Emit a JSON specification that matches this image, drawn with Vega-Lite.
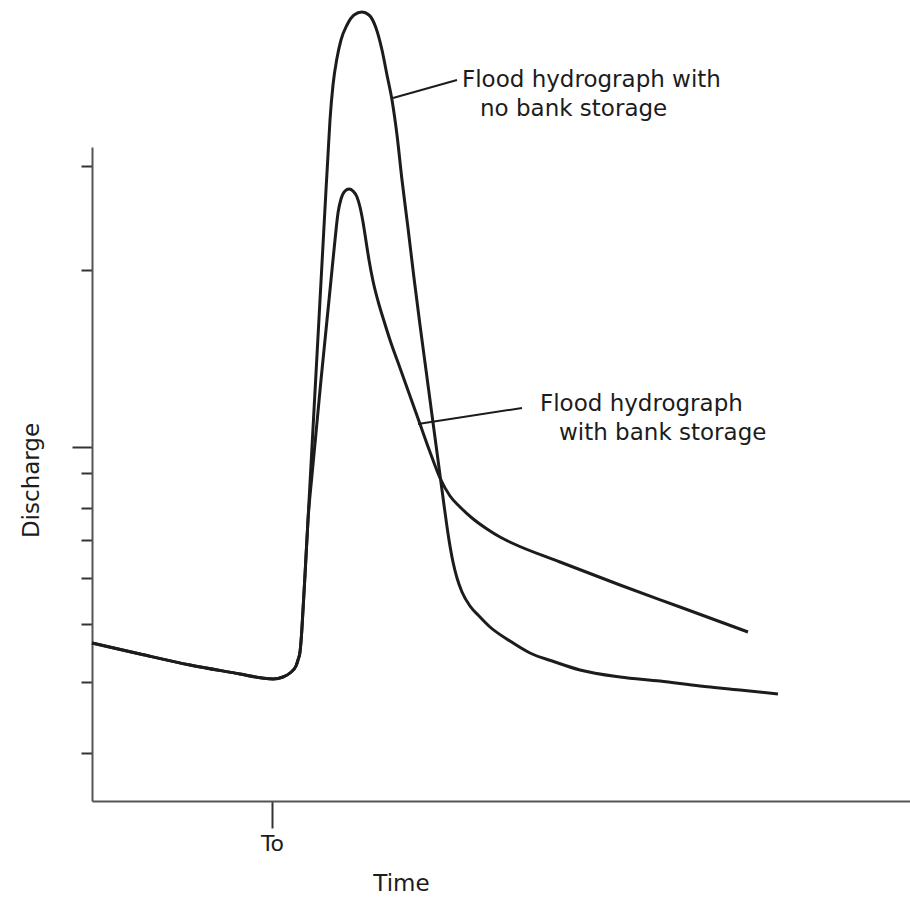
{
  "$schema": "https://vega.github.io/schema/vega-lite/v6.json",
  "width": 818,
  "height": 654,
  "autosize": {"type": "none"},
  "padding": {"left": 92, "top": 147, "right": 0, "bottom": 106},
  "background": "white",
  "config": {"view": {"stroke": null}, "font": "DejaVu Sans"},
  "datasets": {
    "curves": [
      {"series": "no bank storage", "t": 0, "q": 158},
      {"series": "no bank storage", "t": 48, "q": 147},
      {"series": "no bank storage", "t": 98, "q": 136},
      {"series": "no bank storage", "t": 148, "q": 127},
      {"series": "no bank storage", "t": 170, "q": 123},
      {"series": "no bank storage", "t": 181, "q": 122},
      {"series": "no bank storage", "t": 191, "q": 124},
      {"series": "no bank storage", "t": 198, "q": 128},
      {"series": "no bank storage", "t": 204, "q": 135},
      {"series": "no bank storage", "t": 206, "q": 141},
      {"series": "no bank storage", "t": 208, "q": 149},
      {"series": "no bank storage", "t": 209.5, "q": 166},
      {"series": "no bank storage", "t": 211, "q": 191},
      {"series": "no bank storage", "t": 213, "q": 226},
      {"series": "no bank storage", "t": 216, "q": 281},
      {"series": "no bank storage", "t": 219, "q": 336},
      {"series": "no bank storage", "t": 222, "q": 391},
      {"series": "no bank storage", "t": 225, "q": 446},
      {"series": "no bank storage", "t": 228, "q": 501},
      {"series": "no bank storage", "t": 231, "q": 556},
      {"series": "no bank storage", "t": 234, "q": 611},
      {"series": "no bank storage", "t": 236, "q": 646},
      {"series": "no bank storage", "t": 238, "q": 681},
      {"series": "no bank storage", "t": 241, "q": 716},
      {"series": "no bank storage", "t": 245, "q": 743},
      {"series": "no bank storage", "t": 249, "q": 761},
      {"series": "no bank storage", "t": 255, "q": 776},
      {"series": "no bank storage", "t": 262, "q": 786},
      {"series": "no bank storage", "t": 270, "q": 789},
      {"series": "no bank storage", "t": 277, "q": 786},
      {"series": "no bank storage", "t": 284, "q": 773},
      {"series": "no bank storage", "t": 290, "q": 751},
      {"series": "no bank storage", "t": 295, "q": 726},
      {"series": "no bank storage", "t": 300, "q": 701},
      {"series": "no bank storage", "t": 305, "q": 666},
      {"series": "no bank storage", "t": 310, "q": 621},
      {"series": "no bank storage", "t": 316, "q": 573},
      {"series": "no bank storage", "t": 322, "q": 523},
      {"series": "no bank storage", "t": 328, "q": 476},
      {"series": "no bank storage", "t": 334, "q": 431},
      {"series": "no bank storage", "t": 340, "q": 386},
      {"series": "no bank storage", "t": 346, "q": 341},
      {"series": "no bank storage", "t": 352, "q": 296},
      {"series": "no bank storage", "t": 357, "q": 261},
      {"series": "no bank storage", "t": 361, "q": 239},
      {"series": "no bank storage", "t": 365, "q": 223},
      {"series": "no bank storage", "t": 370, "q": 209},
      {"series": "no bank storage", "t": 378, "q": 195},
      {"series": "no bank storage", "t": 388, "q": 184},
      {"series": "no bank storage", "t": 398, "q": 174},
      {"series": "no bank storage", "t": 418, "q": 160},
      {"series": "no bank storage", "t": 438, "q": 148},
      {"series": "no bank storage", "t": 463, "q": 139},
      {"series": "no bank storage", "t": 488, "q": 131},
      {"series": "no bank storage", "t": 528, "q": 124},
      {"series": "no bank storage", "t": 568, "q": 120},
      {"series": "no bank storage", "t": 608, "q": 115},
      {"series": "no bank storage", "t": 648, "q": 111},
      {"series": "no bank storage", "t": 686, "q": 107},
      {"series": "bank storage", "t": 0, "q": 158},
      {"series": "bank storage", "t": 48, "q": 147},
      {"series": "bank storage", "t": 98, "q": 136},
      {"series": "bank storage", "t": 148, "q": 127},
      {"series": "bank storage", "t": 170, "q": 123},
      {"series": "bank storage", "t": 181, "q": 122},
      {"series": "bank storage", "t": 191, "q": 124},
      {"series": "bank storage", "t": 198, "q": 128},
      {"series": "bank storage", "t": 204, "q": 135},
      {"series": "bank storage", "t": 206, "q": 141},
      {"series": "bank storage", "t": 208, "q": 149},
      {"series": "bank storage", "t": 209.5, "q": 166},
      {"series": "bank storage", "t": 211, "q": 191},
      {"series": "bank storage", "t": 213, "q": 226},
      {"series": "bank storage", "t": 216, "q": 281},
      {"series": "bank storage", "t": 220, "q": 326},
      {"series": "bank storage", "t": 224, "q": 368},
      {"series": "bank storage", "t": 229, "q": 421},
      {"series": "bank storage", "t": 234, "q": 471},
      {"series": "bank storage", "t": 239, "q": 521},
      {"series": "bank storage", "t": 243, "q": 561},
      {"series": "bank storage", "t": 246, "q": 588},
      {"series": "bank storage", "t": 249, "q": 602},
      {"series": "bank storage", "t": 253, "q": 610},
      {"series": "bank storage", "t": 257, "q": 612},
      {"series": "bank storage", "t": 261, "q": 610},
      {"series": "bank storage", "t": 265, "q": 604},
      {"series": "bank storage", "t": 268, "q": 594},
      {"series": "bank storage", "t": 271, "q": 579},
      {"series": "bank storage", "t": 274, "q": 560},
      {"series": "bank storage", "t": 277, "q": 541},
      {"series": "bank storage", "t": 281, "q": 520},
      {"series": "bank storage", "t": 286, "q": 500},
      {"series": "bank storage", "t": 292, "q": 480},
      {"series": "bank storage", "t": 298, "q": 461},
      {"series": "bank storage", "t": 308, "q": 433},
      {"series": "bank storage", "t": 318, "q": 405},
      {"series": "bank storage", "t": 328, "q": 377},
      {"series": "bank storage", "t": 338, "q": 349},
      {"series": "bank storage", "t": 348, "q": 323},
      {"series": "bank storage", "t": 358, "q": 305},
      {"series": "bank storage", "t": 368, "q": 294},
      {"series": "bank storage", "t": 380, "q": 283},
      {"series": "bank storage", "t": 395, "q": 272},
      {"series": "bank storage", "t": 408, "q": 264},
      {"series": "bank storage", "t": 420, "q": 258},
      {"series": "bank storage", "t": 468, "q": 239},
      {"series": "bank storage", "t": 528, "q": 216},
      {"series": "bank storage", "t": 588, "q": 194},
      {"series": "bank storage", "t": 656, "q": 169}
    ],
    "leaders": [
      {"t": 301, "q": 703, "t2": 365, "q2": 721},
      {"t": 326, "q": 377, "t2": 430, "q2": 393}
    ],
    "notes": [
      {"t": 370, "q": 721, "label": "Flood hydrograph with"},
      {"t": 388, "q": 692, "label": "no bank storage"},
      {"t": 448, "q": 397, "label": "Flood hydrograph"},
      {"t": 467, "q": 368, "label": "with bank storage"}
    ]
  },
  "encoding": {
    "x": {
      "field": "t",
      "type": "quantitative",
      "scale": {"domain": [0, 818], "nice": false, "zero": false},
      "axis": {
        "title": "Time",
        "titleX": 309,
        "titleY": 82,
        "titleAlign": "center",
        "titleBaseline": "middle",
        "titleFontSize": 23,
        "titleFontWeight": "normal",
        "titleColor": "#1c1c1c",
        "titleFont": "DejaVu Sans",
        "values": [180],
        "labelExpr": "'To'",
        "tickSize": 27,
        "tickWidth": 2,
        "tickColor": "#333333",
        "labelPadding": 5,
        "labelFontSize": 22,
        "labelColor": "#1c1c1c",
        "labelBaseline": "top",
        "labelFont": "DejaVu Sans",
        "domainColor": "#555555",
        "domainWidth": 2,
        "grid": false
      }
    },
    "y": {
      "field": "q",
      "type": "quantitative",
      "scale": {"domain": [0, 654], "nice": false, "zero": false},
      "axis": {
        "title": "Discharge",
        "titleX": -61,
        "titleY": 333,
        "titleAngle": -90,
        "titleAlign": "center",
        "titleBaseline": "middle",
        "titleFontSize": 23,
        "titleFontWeight": "normal",
        "titleColor": "#1c1c1c",
        "titleFont": "DejaVu Sans",
        "values": [635, 531, 354, 328, 293, 261, 223, 177, 119, 48],
        "labels": false,
        "tickSize": {"condition": {"test": "datum.value == 354", "value": 20}, "value": 11},
        "tickWidth": 2,
        "tickColor": "#333333",
        "domainColor": "#555555",
        "domainWidth": 2,
        "grid": false
      }
    }
  },
  "layer": [
    {
      "data": {"name": "curves"},
      "mark": {"type": "line", "interpolate": "monotone", "strokeWidth": 3, "color": "#1c1c1c", "clip": false},
      "encoding": {"detail": {"field": "series", "type": "nominal"}}
    },
    {
      "data": {"name": "leaders"},
      "mark": {"type": "rule", "strokeWidth": 2, "color": "#1c1c1c"},
      "encoding": {
        "x2": {"field": "t2"},
        "y2": {"field": "q2"}
      }
    },
    {
      "data": {"name": "notes"},
      "mark": {"type": "text", "align": "left", "baseline": "middle", "fontSize": 23, "color": "#1c1c1c", "font": "DejaVu Sans"},
      "encoding": {"text": {"field": "label", "type": "nominal"}}
    }
  ]
}
